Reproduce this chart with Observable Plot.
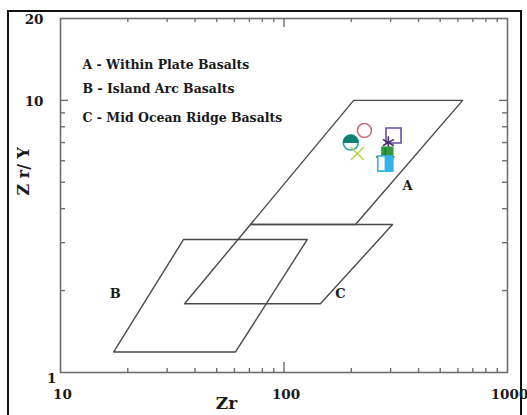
<!DOCTYPE html>
<html><head><meta charset="utf-8">
<script src="https://cdn.jsdelivr.net/npm/d3@7"></script>
<script src="https://cdn.jsdelivr.net/npm/@observablehq/plot@0.6"></script>
<style>
body{margin:0;background:#fff;}
#wrap{position:relative;width:527px;height:415px;overflow:hidden;background:#fff;}
#border{position:absolute;left:7px;top:10px;width:515px;height:420px;border:2px solid #111;box-sizing:border-box;pointer-events:none;}
#wrap svg{position:absolute;left:0;top:0;}
</style></head><body><div id="wrap"><div id="border"></div></div>
<script>
// ---- Data ----
// Field polygons (Zr ppm, Zr/Y), closed
const fieldAZr  = [70.8, 209, 630, 205, 70.8];
const fieldAZrY = [3.5, 3.5, 10.0, 10.0, 3.5];
const fieldBZr  = [17.3, 60.7, 127, 35.5, 17.3];
const fieldBZrY = [1.19, 1.19, 3.08, 3.08, 1.19];
const fieldCZr  = [35.9, 145.5, 306, 70.8, 35.9];
const fieldCZrY = [1.79, 1.79, 3.5, 3.5, 1.79];
// Field labels
const fieldLabels = ["A", "B", "C"];
const fieldLabelZr = [357, 17.6, 179];
const fieldLabelZrY = [4.87, 1.95, 1.95];
// Legend
const legendLines = ["A - Within Plate Basalts", "B - Island Arc Basalts", "C - Mid Ocean Ridge Basalts"];
// Samples
const samples = ["S1", "S2", "S3", "S4", "S5", "S6", "S7", "S8"];
const sampleZr  = [199, 229, 213, 309, 293, 290, 284, 284];
const sampleZrY = [7.0, 7.75, 6.38, 7.43, 7.0, 6.43, 6.2, 5.86];
// Axis ticks
const xTickLabels = [10, 100, 1000];
const xMinorTicks = [20, 30, 40, 50, 60, 70, 80, 90, 200, 300, 400, 500, 600, 700, 800, 900];
const xMajorTicks = [100];
const yTickLabelsUpper = [10, 20];
const yTickLabelsLower = [1];
const yMinorTicks = [2, 3, 4, 5, 6, 7, 8, 9];
const yMajorTicks = [10];

// ---- Build ----
const fields = [];
[[fieldAZr, fieldAZrY, "A"], [fieldBZr, fieldBZrY, "B"], [fieldCZr, fieldCZrY, "C"]].forEach(([xs, ys, k]) => {
  xs.forEach((x, i) => fields.push({field: k, zr: x, zry: ys[i]}));
});
const labels = fieldLabels.map((t, i) => ({t, zr: fieldLabelZr[i], zry: fieldLabelZrY[i]}));
const pts = samples.map((s, i) => ({s, zr: sampleZr[i], zry: sampleZrY[i]}));

const W = 527, H = 415, mL = 60, mR = 20, mT = 18, mB = 43;
const fH = H - mT - mB, fW = W - mL - mR;
const serif = "DejaVu Serif, serif";
const frameStroke = "#6e6e6e";
const ink = "#1a1a1a";

const halfTop = {draw(ctx, size) { const r = Math.sqrt(size / Math.PI); ctx.moveTo(r, 0); ctx.arc(0, 0, r, 0, Math.PI, true); ctx.closePath(); }};
const halfRightSquare = {draw(ctx, size) { const s = Math.sqrt(size) / 2; ctx.moveTo(-s * 0.1, -s); ctx.lineTo(s, -s); ctx.lineTo(s, s); ctx.lineTo(-s * 0.1, s); ctx.closePath(); }};

const sampleStyle = {
  S1: {symbol: "circle", fill: "#fff", stroke: "#2aa6b8", r: 7.5},
  S2: {symbol: "circle", fill: "none", stroke: "#c8707c", r: 7},
  S3: {symbol: "times", fill: "none", stroke: "#b8d84a", r: 6},
  S4: {symbol: "square", fill: "none", stroke: "#5d4fb0", r: 8.5},
  S5: {symbol: "asterisk", fill: "none", stroke: "#4a2f6a", r: 6},
  S6: {symbol: "square", fill: "#2f9a3c", stroke: "#2f9a3c", r: 6},
  S7: {symbol: "plus", fill: "none", stroke: "#1f7a33", r: 6},
  S8: {symbol: "square", fill: "#fff", stroke: "#33b3ea", r: 8.5}
};

const tickStyle = {stroke: frameStroke, strokeWidth: 1.4};
const marks = [
  Plot.frame({stroke: frameStroke, strokeWidth: 1.6}),
  // inward ticks on all four sides
  Plot.tickX(xMinorTicks, {x: d => d, ...tickStyle, insetTop: fH - 4}),
  Plot.tickX(xMajorTicks, {x: d => d, ...tickStyle, insetTop: fH - 10}),
  Plot.tickX(xMinorTicks, {x: d => d, ...tickStyle, insetBottom: fH - 4}),
  Plot.tickX(xMajorTicks, {x: d => d, ...tickStyle, insetBottom: fH - 9}),
  Plot.tickY(yMinorTicks, {y: d => d, ...tickStyle, insetRight: fW - 5}),
  Plot.tickY(yMajorTicks, {y: d => d, ...tickStyle, insetRight: fW - 8}),
  Plot.tickY(yMinorTicks, {y: d => d, ...tickStyle, insetLeft: fW - 5}),
  Plot.tickY(yMajorTicks, {y: d => d, ...tickStyle, insetLeft: fW - 8}),
  // tick labels
  Plot.axisX({ticks: xTickLabels, label: null, tickSize: 0, tickPadding: 17, tickFormat: d => String(d), fontSize: 13.5, fontWeight: "bold", fontFamily: serif, fill: ink, dx: 2}),
  Plot.axisY({ticks: yTickLabelsUpper, label: null, tickSize: 0, tickPadding: 17, tickFormat: d => String(d), fontSize: 13.5, fontWeight: "bold", fontFamily: serif, fill: ink, dy: 1}),
  Plot.axisY({ticks: yTickLabelsLower, label: null, tickSize: 0, tickPadding: 4, tickFormat: d => String(d), fontSize: 13.5, fontWeight: "bold", fontFamily: serif, fill: ink, dy: 6}),
  // axis titles
  Plot.text(["Zr"], {frameAnchor: "bottom", dx: 226 - (mL + fW / 2), dy: 36, fontSize: 17, fontWeight: "bold", fontFamily: serif, fill: ink}),
  Plot.text(["Z r/ Y"], {frameAnchor: "left", dx: -37, dy: 195 - (mT + fH / 2), rotate: -90, fontSize: 16, fontWeight: "bold", fontFamily: serif, fill: ink}),
  // fields
  Plot.line(fields, {x: "zr", y: "zry", z: "field", stroke: "#4a4a4a", strokeWidth: 1.4, strokeLinejoin: "round"}),
  Plot.text(labels, {x: "zr", y: "zry", text: "t", fontSize: 13, fontWeight: "bold", fontFamily: serif, fill: ink}),
  // legend
  ...legendLines.map((t, i) => Plot.text([t], {frameAnchor: "top-left", dx: 22, dy: [42, 66, 95][i], textAnchor: "start", fontSize: 12.5, fontWeight: "bold", fontFamily: serif, fill: ink})),
  // samples
  ...pts.map(p => {
    const st = sampleStyle[p.s];
    return Plot.dot([p], {x: "zr", y: "zry", symbol: st.symbol, r: st.r, fill: st.fill, stroke: st.stroke, strokeWidth: 1.6});
  }),
  Plot.dot(pts.filter(p => p.s === "S1"), {x: "zr", y: "zry", symbol: halfTop, r: 7.5, fill: "#0f7f70", stroke: "#0f7f70", strokeWidth: 1}),
  Plot.dot(pts.filter(p => p.s === "S8"), {x: "zr", y: "zry", symbol: halfRightSquare, r: 8.5, fill: "#33b3ea", stroke: "none"})
];

const chart = Plot.plot({
  width: W, height: H,
  marginLeft: mL, marginRight: mR, marginTop: mT, marginBottom: mB,
  x: {type: "log", domain: [10, 1000], axis: null},
  y: {type: "log", domain: [1, 20], axis: null},
  symbol: {type: "identity"},
  style: {background: "transparent", fontFamily: serif},
  marks
});
document.getElementById("wrap").appendChild(chart);
</script>
</body></html>
